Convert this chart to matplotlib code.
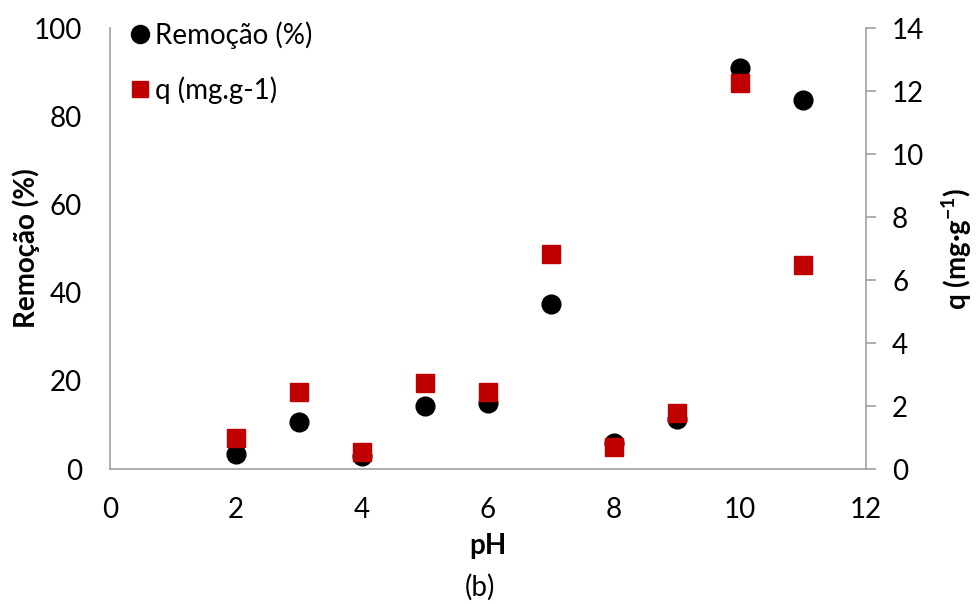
import matplotlib
matplotlib.use("Agg")
import matplotlib.pyplot as plt
from matplotlib.lines import Line2D

plt.rcParams['font.family'] = ['Lato', 'DejaVu Sans']
plt.rcParams['mathtext.fontset'] = 'custom'
plt.rcParams['mathtext.rm'] = 'Lato'
plt.rcParams['mathtext.bf'] = 'Lato:bold'

ph = [2, 3, 4, 5, 6, 7, 8, 9, 10, 11]
remocao = [3.3, 10.7, 2.9, 14.4, 15.0, 37.4, 5.9, 11.3, 90.9, 83.7]
q = [0.97, 2.43, 0.55, 2.72, 2.43, 6.83, 0.71, 1.79, 12.25, 6.48]

left_ticks = [0, 20, 40, 60, 80, 100]
right_ticks = [0, 2, 4, 6, 8, 10, 12, 14]
x_ticks = [0, 2, 4, 6, 8, 10, 12]

fig = plt.figure(figsize=(9.76, 6.04), dpi=100)
ax = fig.add_axes([0.1127, 0.2235, 0.7743, 0.7301])
ax2 = ax.twinx()

gray = '#a0a0a0'
fs = 20
ax.plot(ph, remocao, 'o', color='black', markersize=13.5, linestyle='none', zorder=2)
ax2.plot(ph, q, 's', color='#c00000', markersize=13, linestyle='none', zorder=3)

ax.set_xlim(0, 12)
ax.set_ylim(0, 100)
ax2.set_ylim(0, 14)
ax.set_xticks(x_ticks)
ax.set_yticks(left_ticks)
ax2.set_yticks(right_ticks)

for a in (ax, ax2):
    a.spines['top'].set_visible(False)
    for s in ('left', 'right', 'bottom'):
        a.spines[s].set_color(gray)
        a.spines[s].set_linewidth(1.2)
ax.spines['right'].set_visible(False)
ax2.spines['left'].set_visible(False)
ax2.spines['bottom'].set_visible(False)

ax.tick_params(axis='x', length=0, pad=20, labelsize=fs)
ax.tick_params(axis='y', length=0, pad=20, labelsize=fs)
ax2.tick_params(axis='y', length=7, width=1.2, color=gray, pad=12, labelsize=fs)

ax.set_xlabel('pH', fontsize=fs, fontweight='bold', labelpad=7)
ax.set_ylabel('Remoção (%)', fontsize=fs, fontweight='bold')
ax.yaxis.set_label_coords(-0.093, 0.5)
ax2.set_ylabel(r'q (mg·g$^{\mathbf{-1}}$)', fontsize=fs, fontweight='bold')
ax2.yaxis.set_label_coords(1.097, 0.5)

fig.text(0.492, 0.027, '(b)', fontsize=fs, ha='center', va='center')

handles = [
    Line2D([], [], marker='o', color='black', linestyle='none', markersize=13),
    Line2D([], [], marker='s', color='#c00000', linestyle='none', markersize=12),
]
ax.legend(handles, ['Remoção (%)', 'q (mg.g-1)'], loc='upper left',
          bbox_to_anchor=(-0.005, 1.06), frameon=False, fontsize=fs,
          handletextpad=0.05, labelspacing=1.0, handlelength=1.0,
          borderaxespad=0.3)

fig.savefig('out.png', dpi=100)
